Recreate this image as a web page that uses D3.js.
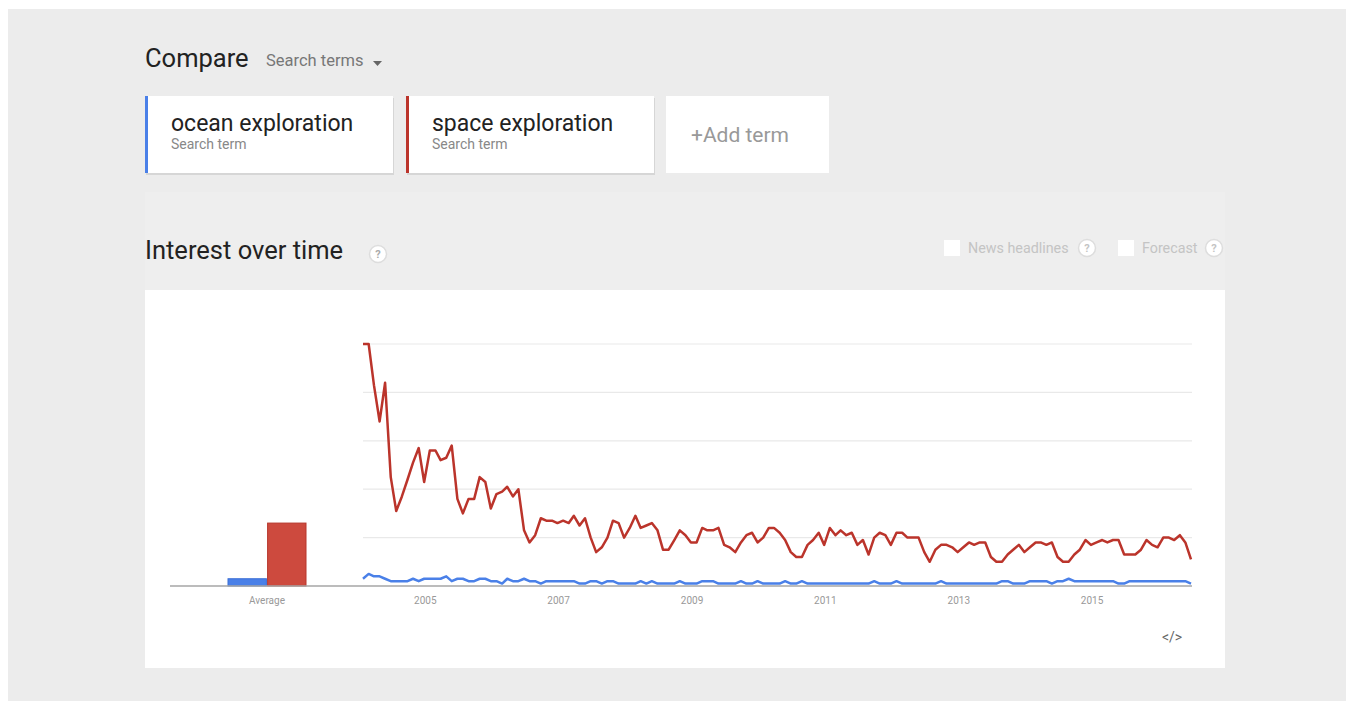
<!DOCTYPE html>
<html>
<head>
<meta charset="utf-8">
<script src="https://cdn.jsdelivr.net/npm/d3@7"></script>
<style>
  body { margin: 0; background: #fff; }
  svg { display: block; font-family: Roboto, "Noto Sans", sans-serif; }
</style>
</head>
<body>
<svg id="chart" width="1353" height="707"></svg>
<script>
// search terms and their averages
const terms = ["ocean exploration", "space exploration"];
const termColors = ["#4a80e8", "#bb342b"];
const averages = [3, 26];
const yearLabels = ["2005", "2007", "2009", "2011", "2013", "2015"];

// monthly interest, Jan 2004 .. Jun 2016
const spaceValues = [
  100, 100, 83, 68, 84, 45, 31, 37, 44, 51, 57, 43,
  56, 56, 52, 53, 58, 36, 30, 36, 36, 45, 43, 32,
  38, 39, 41, 37, 40, 23, 18, 21, 28, 27, 27, 26,
  27, 26, 29, 25, 28, 20, 14, 16, 20, 27, 26, 20,
  24, 29, 24, 25, 26, 23, 15, 15, 19, 23, 21, 18,
  18, 24, 23, 23, 24, 17, 16, 14, 18, 21, 22, 18,
  20, 24, 24, 22, 19, 14, 12, 12, 17, 19, 22, 17,
  24, 21, 23, 21, 22, 17, 19, 13, 20, 22, 21, 17,
  22, 22, 20, 20, 20, 14, 10, 15, 17, 17, 16, 14,
  16, 18, 17, 18, 18, 12, 10, 10, 13, 15, 17, 14,
  16, 18, 18, 17, 18, 12, 10, 10, 13, 15, 19, 17,
  18, 19, 18, 19, 19, 13, 13, 13, 15, 19, 17, 16,
  20, 20, 19, 21, 18, 11
];
const oceanValues = [
  3, 5, 4, 4, 3, 2, 2, 2, 2, 3, 2, 3,
  3, 3, 3, 4, 2, 3, 3, 2, 2, 3, 3, 2,
  2, 1, 3, 2, 2, 3, 2, 2, 1, 2, 2, 2,
  2, 2, 2, 1, 1, 2, 2, 1, 2, 2, 1, 1,
  1, 1, 2, 1, 2, 1, 1, 1, 1, 2, 1, 1,
  1, 2, 2, 2, 1, 1, 1, 1, 2, 1, 1, 2,
  1, 1, 1, 1, 2, 1, 1, 2, 1, 1, 1, 1,
  1, 1, 1, 1, 1, 1, 1, 1, 2, 1, 1, 1,
  2, 1, 1, 1, 1, 1, 1, 1, 2, 1, 1, 1,
  1, 1, 1, 1, 1, 1, 1, 2, 2, 1, 1, 1,
  2, 2, 2, 2, 1, 2, 2, 3, 2, 2, 2, 2,
  2, 2, 2, 2, 1, 1, 2, 2, 2, 2, 2, 2,
  2, 2, 2, 2, 2, 1
];

const months = d3.timeMonth.range(new Date(2004, 0, 1), new Date(2016, 6, 1));

const svg = d3.select("#chart");

// page background
svg.append("rect").attr("x", 8).attr("y", 9).attr("width", 1338).attr("height", 692).attr("fill", "#ececec");
svg.append("rect").attr("x", 145).attr("y", 192).attr("width", 1080).attr("height", 98).attr("fill", "#eeeeee");

// header
svg.append("text").attr("x", 145).attr("y", 67).attr("font-size", 25.5).attr("fill", "#222").text("Compare");
svg.append("text").attr("x", 266).attr("y", 66).attr("font-size", 16.5).attr("fill", "#777").text("Search terms");
svg.append("path").attr("d", "M373,61 h9 l-4.5,5 z").attr("fill", "#666");

// term boxes
const boxes = svg.append("g");
terms.forEach((t, i) => {
  const x0 = 145 + i * 261;
  const g = boxes.append("g").attr("transform", `translate(${x0},96)`);
  g.append("rect").attr("x", 1).attr("y", 2).attr("width", 248).attr("height", 77).attr("fill", "#d6d6d6");
  g.append("rect").attr("width", 248).attr("height", 77).attr("fill", "#fff");
  g.append("rect").attr("width", 3).attr("height", 77).attr("fill", termColors[i]);
  g.append("text").attr("x", 26).attr("y", 35).attr("font-size", 23).attr("fill", "#222").text(t);
  g.append("text").attr("x", 26).attr("y", 53).attr("font-size", 14).attr("fill", "#888").text("Search term");
});
const add = svg.append("g").attr("transform", "translate(666,96)");
add.append("rect").attr("width", 163).attr("height", 77).attr("fill", "#fff");
add.append("text").attr("x", 74).attr("y", 46).attr("text-anchor", "middle")
  .attr("font-size", 21).attr("fill", "#999").text("+Add term");

// section title
function helpIcon(cx, cy, col) {
  const g = svg.append("g");
  g.append("circle").attr("cx", cx).attr("cy", cy).attr("r", 8.5).attr("fill", "#fff")
    .attr("stroke", "#ddd").attr("stroke-width", 1.5);
  g.append("text").attr("x", cx).attr("y", cy + 4).attr("text-anchor", "middle")
    .attr("font-size", 11).attr("font-weight", 700).attr("fill", col).text("?");
}
svg.append("text").attr("x", 145).attr("y", 259).attr("font-size", 25.5).attr("fill", "#222").text("Interest over time");
helpIcon(378, 254, "#aaa");

[["News headlines", 944, 1087], ["Forecast", 1118, 1214]].forEach(d => {
  svg.append("rect").attr("x", d[1]).attr("y", 240).attr("width", 16).attr("height", 16).attr("fill", "#fff");
  svg.append("text").attr("x", d[1] + 24).attr("y", 253).attr("font-size", 14.3).attr("fill", "#c4c4c4").text(d[0]);
  helpIcon(d[2], 248, "#c4c4c4");
});

// chart panel
svg.append("rect").attr("x", 145).attr("y", 290).attr("width", 1080).attr("height", 378).attr("fill", "#fff");

const x = d3.scaleTime().domain([months[0], months[months.length - 1]]).range([363, 1191]);
const y = d3.scaleLinear().domain([0, 100]).range([586, 344]);

svg.append("g").selectAll("line").data([20, 40, 60, 80, 100]).join("line")
  .attr("x1", 363).attr("x2", 1192).attr("y1", d => y(d)).attr("y2", d => y(d))
  .attr("stroke", "#e9e9e9").attr("stroke-width", 1.2);

// average bars
const band = d3.scaleBand().domain(terms).range([228, 306]).paddingInner(0.03);
svg.append("g").selectAll("rect").data(terms).join("rect")
  .attr("x", d => band(d)).attr("width", band.bandwidth())
  .attr("y", (d, i) => y(averages[i])).attr("height", (d, i) => y(0) - y(averages[i]))
  .attr("fill", (d, i) => i ? "#cd4a3e" : "#4a80e8")
  .attr("stroke", (d, i) => i ? "#b7372c" : "#3a6fd6").attr("stroke-width", 1);

// baseline
svg.append("line").attr("x1", 170).attr("x2", 1192).attr("y1", y(0)).attr("y2", y(0))
  .attr("stroke", "#a6a6a6").attr("stroke-width", 1.5);

svg.append("text").attr("x", 267).attr("y", 604).attr("text-anchor", "middle")
  .attr("font-size", 10).attr("fill", "#999").text("Average");

// time axis labels
const xAxis = d3.axisBottom(x)
  .tickValues(yearLabels.map(s => new Date(+s, 0, 1)))
  .tickFormat(d3.timeFormat("%Y")).tickSize(0).tickPadding(0);
const ax = svg.append("g").attr("transform", `translate(-5,${y(0) + 18})`).call(xAxis);
ax.select(".domain").remove();
ax.selectAll("text").attr("font-size", 10).attr("fill", "#999").attr("font-family", "Roboto, sans-serif").attr("dy", 0);

// lines
const line = d3.line().x((d, i) => x(months[i])).y(d => y(d));
svg.append("path").datum(oceanValues).attr("d", line).attr("fill", "none")
  .attr("stroke", termColors[0]).attr("stroke-width", 2.5).attr("stroke-linejoin", "round");
svg.append("path").datum(spaceValues).attr("d", line).attr("fill", "none")
  .attr("stroke", termColors[1]).attr("stroke-width", 2.5).attr("stroke-linejoin", "round");

// embed icon
svg.append("text").attr("x", 1172).attr("y", 642).attr("text-anchor", "middle")
  .attr("font-size", 14).attr("fill", "#666").text("</>");
</script>
</body>
</html>
